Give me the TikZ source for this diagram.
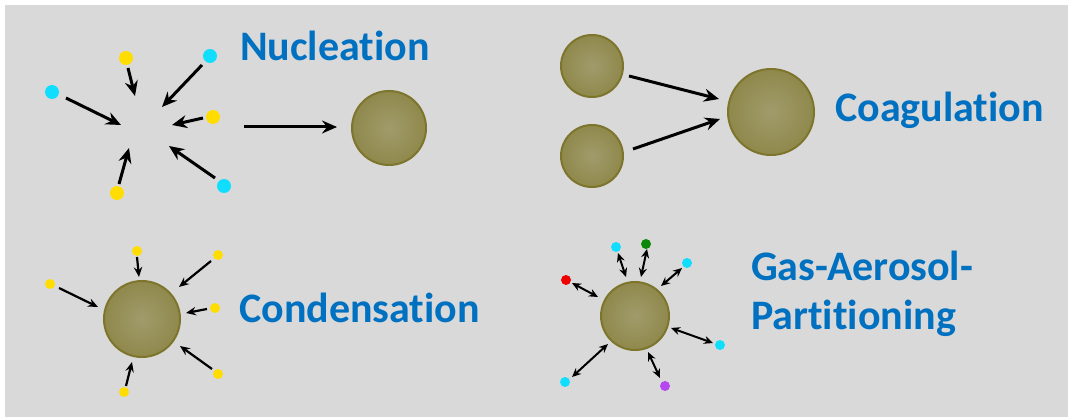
\documentclass[tikz,border=0pt]{standalone}
\usepackage{fontspec}
\setmainfont{Carlito}[Ligatures=CommonOff]
\usetikzlibrary{arrows.meta}
\definecolor{bgc}{HTML}{D9D9D9}
\definecolor{txtblue}{HTML}{0070C0}
\definecolor{dyel}{HTML}{FFDD00}
\definecolor{dcyan}{HTML}{11DDFF}
\definecolor{dred}{HTML}{EE0000}
\definecolor{dgreen}{HTML}{0A880A}
\definecolor{dpurple}{HTML}{B646F0}
\definecolor{sphin}{HTML}{A09B6B}
\definecolor{sphmid}{HTML}{8C8546}
\definecolor{sphout}{HTML}{837A33}
\definecolor{sphrim}{HTML}{7E752C}
\pgfdeclareradialshading{sphshade}{\pgfpoint{0bp}{0bp}}{color(0bp)=(sphin); color(30bp)=(sphmid); color(46bp)=(sphout); color(50bp)=(sphout)}
\tikzset{
  sph/.style={circle, inner sep=0pt, minimum size=#1, shading=sphshade, draw=sphrim, line width=2pt},
  dot/.style={circle, inner sep=0pt, minimum size=#1},
  big/.style={-{Stealth[length=15pt,width=13pt,inset=5pt]}, line width=3pt},
  mid/.style={-{Stealth[length=10pt,width=8.5pt,inset=3.5pt]}, line width=2.2pt},
  two/.style={{Stealth[length=9pt,width=8pt,inset=3pt]}-{Stealth[length=9pt,width=8pt,inset=3pt]}, line width=2pt},
  lbl/.style={text=txtblue, font=\fontsize{42}{49}\selectfont\bfseries, inner sep=0pt, anchor=base west}
}
\begin{document}
\begin{tikzpicture}[x=1pt,y=-1pt]
\useasboundingbox (0,0) rectangle (1068,419);
\fill[bgc] (5,5) rectangle (1068,417);

% ---------- Nucleation ----------
\node[dot=14pt, fill=dyel] (n1) at (126,58) {};
\node[dot=14pt, fill=dcyan] (n2) at (210,56) {};
\node[dot=14pt, fill=dcyan] (n3) at (52,92) {};
\node[dot=14pt, fill=dyel] (n4) at (213,117) {};
\node[dot=14pt, fill=dyel] (n5) at (117,193) {};
\node[dot=14pt, fill=dcyan] (n6) at (224,186) {};
\coordinate (n1a) at (128,68);  \coordinate (n1b) at (135,96);
\coordinate (n2a) at (202,65);  \coordinate (n2b) at (162,107);
\coordinate (n3a) at (66,98);   \coordinate (n3b) at (121,125);
\coordinate (n4a) at (203,118); \coordinate (n4b) at (172,125);
\coordinate (n5a) at (119,184); \coordinate (n5b) at (129,148);
\coordinate (n6a) at (215,178); \coordinate (n6b) at (169,146);
\draw[big] (n1a) -- (n1b);
\draw[big] (n2a) -- (n2b);
\draw[big] (n3a) -- (n3b);
\draw[big] (n4a) -- (n4b);
\draw[big] (n5a) -- (n5b);
\draw[big] (n6a) -- (n6b);
\node[sph=74pt] (ns) at (389,128) {};
\coordinate (nca) at (244,127); \coordinate (ncb) at (337,127);
\draw[big] (nca) -- (ncb);
\node[lbl] (tn) at (240,61) {Nucleation};

% ---------- Coagulation ----------
\node[sph=62pt] (c1) at (592,66) {};
\node[sph=62pt] (c2) at (592,156) {};
\node[sph=86pt] (c3) at (771,112) {};
\coordinate (c1a) at (629,76);  \coordinate (c1b) at (719,99);
\coordinate (c2a) at (633,149); \coordinate (c2b) at (720,119);
\draw[big] (c1a) -- (c1b);
\draw[big] (c2a) -- (c2b);
\node[lbl] (tc) at (835,122) {Coagulation};

% ---------- Condensation ----------
\node[sph=76pt] (ds) at (142,319) {};
\node[dot=10pt, fill=dyel] (d1) at (50,284) {};
\node[dot=10pt, fill=dyel] (d2) at (137,251) {};
\node[dot=10pt, fill=dyel] (d3) at (218,255) {};
\node[dot=10pt, fill=dyel] (d4) at (215,308) {};
\node[dot=10pt, fill=dyel] (d5) at (218,374) {};
\node[dot=10pt, fill=dyel] (d6) at (124,392) {};
\coordinate (d1a) at (59,288);  \coordinate (d1b) at (98,307);
\coordinate (d2a) at (137,257); \coordinate (d2b) at (139,277);
\coordinate (d3a) at (211,261); \coordinate (d3b) at (179,287);
\coordinate (d4a) at (207,309); \coordinate (d4b) at (186,313);
\coordinate (d5a) at (212,369); \coordinate (d5b) at (180,346);
\coordinate (d6a) at (126,386); \coordinate (d6b) at (132,362);
\draw[mid] (d1a) -- (d1b);
\draw[mid] (d2a) -- (d2b);
\draw[mid] (d3a) -- (d3b);
\draw[mid] (d4a) -- (d4b);
\draw[mid] (d5a) -- (d5b);
\draw[mid] (d6a) -- (d6b);
\node[lbl] (td) at (239,323) {Condensation};

% ---------- Gas-Aerosol-Partitioning ----------
\node[sph=68pt] (ps) at (635,316) {};
\node[dot=10pt, fill=dcyan] (p1) at (616,247) {};
\node[dot=10pt, fill=dgreen] (p2) at (646,244) {};
\node[dot=10pt, fill=dcyan] (p3) at (687,263) {};
\node[dot=10pt, fill=dred] (p4) at (566,280) {};
\node[dot=10pt, fill=dcyan] (p5) at (720,345) {};
\node[dot=10pt, fill=dpurple] (p6) at (665,386) {};
\node[dot=10pt, fill=dcyan] (p7) at (565,382) {};
\coordinate (p1a) at (618,253); \coordinate (p1b) at (626,277);
\coordinate (p2a) at (647,249); \coordinate (p2b) at (641,277);
\coordinate (p3a) at (682,268); \coordinate (p3b) at (661,286);
\coordinate (p4a) at (572,283); \coordinate (p4b) at (598,297);
\coordinate (p5a) at (713,343); \coordinate (p5b) at (671,328);
\coordinate (p6a) at (660,378); \coordinate (p6b) at (648,352);
\coordinate (p7a) at (572,377); \coordinate (p7b) at (608,344);
\draw[two] (p1a) -- (p1b);
\draw[two] (p2a) -- (p2b);
\draw[two] (p3a) -- (p3b);
\draw[two] (p4a) -- (p4b);
\draw[two] (p5a) -- (p5b);
\draw[two] (p6a) -- (p6b);
\draw[two] (p7a) -- (p7b);
\node[lbl] (tp1) at (751,281) {Gas-Aerosol-};
\node[lbl] (tp2) at (751,330) {Partitioning};
\end{tikzpicture}
\end{document}
